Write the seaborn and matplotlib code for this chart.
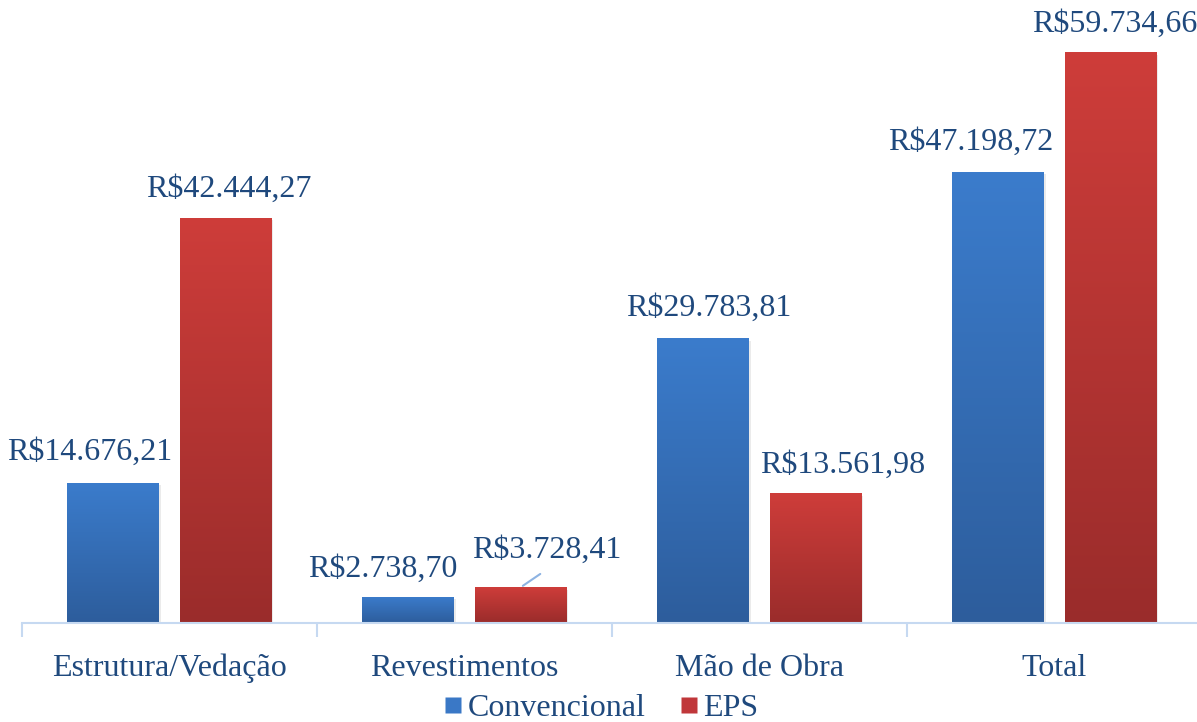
import seaborn as sns
import matplotlib.pyplot as plt
import pandas as pd
import numpy as np
from matplotlib.colors import LinearSegmentedColormap
from matplotlib.lines import Line2D

categorias = ['Estrutura/Vedação', 'Revestimentos', 'Mão de Obra', 'Total']
convencional = [14676.21, 2738.70, 29783.81, 47198.72]
eps = [42444.27, 3728.41, 13561.98, 59734.66]
rotulos_conv = ['R$14.676,21', 'R$2.738,70', 'R$29.783,81', 'R$47.198,72']
rotulos_eps = ['R$42.444,27', 'R$3.728,41', 'R$13.561,98', 'R$59.734,66']

df = pd.DataFrame({
    'categoria': categorias * 2,
    'serie': ['Convencional'] * 4 + ['EPS'] * 4,
    'valor': convencional + eps,
})

sns.set_style('white')
plt.rcParams['font.family'] = ['Liberation Serif', 'DejaVu Serif']
txt = '#1F497D'
fs = 23

fig = plt.figure(figsize=(11.97, 7.22), dpi=100)
ax = fig.add_axes([22 / 1197, 99 / 722, 1180 / 1197, 620 / 722])

sns.barplot(data=df, x='categoria', y='valor', hue='serie', order=categorias,
            hue_order=['Convencional', 'EPS'], width=0.76, gap=0.18,
            palette=['#3A78C6', '#C73A37'], ax=ax, legend=False, errorbar=None)

# gradient fill for each bar
grad_blue = LinearSegmentedColormap.from_list('b', ['#2D5D9C', '#3B7CCC'])
grad_red = LinearSegmentedColormap.from_list('r', ['#9A2C2B', '#CE3D3A'])
bars = list(ax.patches)
for i, p in enumerate(bars):
    x0, w, h = p.get_x(), p.get_width(), p.get_height()
    cmap = grad_blue if i < 4 else grad_red
    p.set_facecolor('none')
    p.set_edgecolor('none')
    # soft shadow
    ax.add_patch(plt.Rectangle((x0 + 0.004, 0), w, h - 250, color='#000000', alpha=0.08,
                               zorder=1, lw=0))
    im = ax.imshow(np.linspace(0, 1, 256).reshape(-1, 1), cmap=cmap, aspect='auto',
                   extent=[x0, x0 + w, 0, h], origin='lower', zorder=2)
    im.set_clip_path(p)
ax.set_xlim(-0.5, 3.5)
ax.set_ylim(0, 64900)

# data labels (offsets in pixels from bar centre / top)
off_conv = [(-24, 30), (-26, 28), (5, 30), (-28, 30)]
off_eps = [(3, 28), (26, 37), (27, 28), (4, 28)]
for i in range(4):
    for p, lab, off in ((bars[i], rotulos_conv[i], off_conv[i]), (bars[i + 4], rotulos_eps[i], off_eps[i])):
        ax.annotate(lab, (p.get_x() + p.get_width() / 2, p.get_height()),
                    xytext=off, textcoords='offset pixels', ha='center', va='center',
                    fontsize=fs, color=txt)

# leader line for Revestimentos / EPS
p = bars[5]
ax.annotate('', (p.get_x() + p.get_width() * 0.5, p.get_height()),
            xytext=(22, 15), textcoords='offset pixels',
            arrowprops=dict(arrowstyle='-', color='#8DB3E2', lw=1.5))

for s in ['top', 'right', 'left']:
    ax.spines[s].set_visible(False)
ax.spines['bottom'].set_color('#C6D9F1')
ax.spines['bottom'].set_linewidth(1.5)
ax.set_yticks([])
ax.set_xticks(range(4))
ax.set_xticklabels(categorias, fontsize=fs, color=txt)
ax.set_xticks(np.arange(-0.5, 4, 1), minor=True)
ax.tick_params(axis='x', which='major', length=0, pad=22, bottom=False)
ax.tick_params(axis='x', which='minor', length=10, width=1.5, color='#C6D9F1', bottom=True)
ax.set_xlabel('')
ax.set_ylabel('')

handles = [Line2D([], [], marker='s', ls='', markersize=12, markerfacecolor='#3A78C6',
                  markeredgecolor='none', label='Convencional'),
           Line2D([], [], marker='s', ls='', markersize=12, markerfacecolor='#C0373A',
                  markeredgecolor='none', label='EPS')]
leg = fig.legend(handles=handles, loc='center', bbox_to_anchor=(0.5, 14 / 722), ncol=2,
                 frameon=False, fontsize=fs, handletextpad=0.0, columnspacing=0.9,
                 handlelength=0.9)
for t in leg.get_texts():
    t.set_color(txt)

fig.savefig('out.png', dpi=100)
